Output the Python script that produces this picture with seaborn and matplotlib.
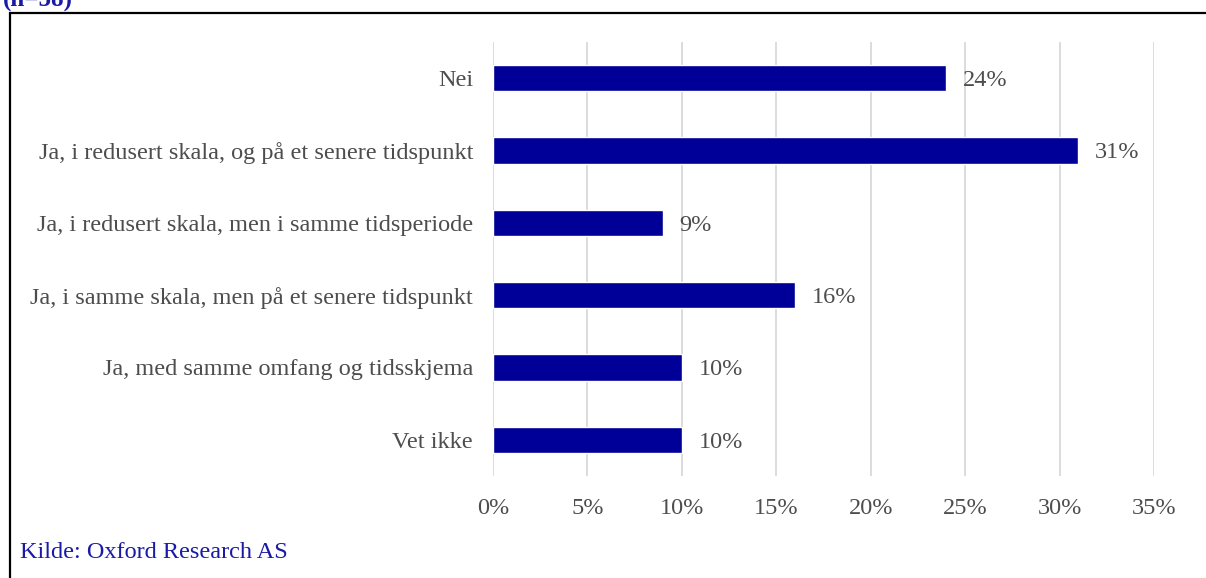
import matplotlib
matplotlib.use("Agg")
import matplotlib.pyplot as plt
import seaborn as sns
import pandas as pd
from matplotlib.patches import Rectangle

categories = [
    "Nei",
    "Ja, i redusert skala, og på et senere tidspunkt",
    "Ja, i redusert skala, men i samme tidsperiode",
    "Ja, i samme skala, men på et senere tidspunkt",
    "Ja, med samme omfang og tidsskjema",
    "Vet ikke",
]
shares = [24, 31, 9, 16, 10, 10]
tick_values = [0, 5, 10, 15, 20, 25, 30, 35]
tick_labels = ["0%", "5%", "10%", "15%", "20%", "25%", "30%", "35%"]
title_text = "(n=58)"
source_text = "Kilde: Oxford Research AS"

sns.set_theme(style="white")
plt.rcParams["font.family"] = ["Liberation Serif", "DejaVu Serif"]

bar_color = "#000099"
text_color = "#4d4d4d"
fs = 17.5

df = pd.DataFrame({"kategori": categories, "andel": shares})

fig = plt.figure(figsize=(12.06, 5.78), dpi=100)
ax = fig.add_axes([493 / 1206, 1 - 476 / 578, (1154 - 493) / 1206, (476 - 42) / 578])

sns.barplot(data=df, x="andel", y="kategori", orient="h", color=bar_color,
            saturation=1, width=0.36, ax=ax, zorder=3)

ax.set_xlim(0, 35)
ax.set_xticks(tick_values)
ax.set_xticklabels(tick_labels)
ax.grid(axis="x", color="#d9d9d9", linewidth=1.3, zorder=0)
ax.grid(axis="y", visible=False)
for s in ax.spines.values():
    s.set_visible(False)
ax.set_xlabel("")
ax.set_ylabel("")
ax.tick_params(axis="x", length=0, pad=16, labelsize=fs, labelcolor=text_color)
ax.tick_params(axis="y", length=0, pad=14.4, labelsize=fs, labelcolor=text_color)

for i, v in enumerate(shares):
    ax.annotate(f"{v}%", xy=(v, i), xytext=(12, 0), textcoords="offset points",
                va="center_baseline", ha="left", fontsize=fs, color=text_color)

# Frame around the chart area
fig.patches.append(Rectangle((10 / 1206, -0.05), 1.2, 1 - 13 / 578 + 0.05,
                             transform=fig.transFigure, fill=False,
                             edgecolor="black", linewidth=1.6, zorder=10))

fig.text(3 / 1206, 1 - 7 / 578, title_text, ha="left", va="baseline",
         fontsize=18, fontweight="bold", color="#1a1aa6")
fig.text(20 / 1206, 1 - 558 / 578, source_text, ha="left", va="baseline",
         fontsize=fs, color="#1a1aa6")

fig.savefig("out.png", dpi=100)
